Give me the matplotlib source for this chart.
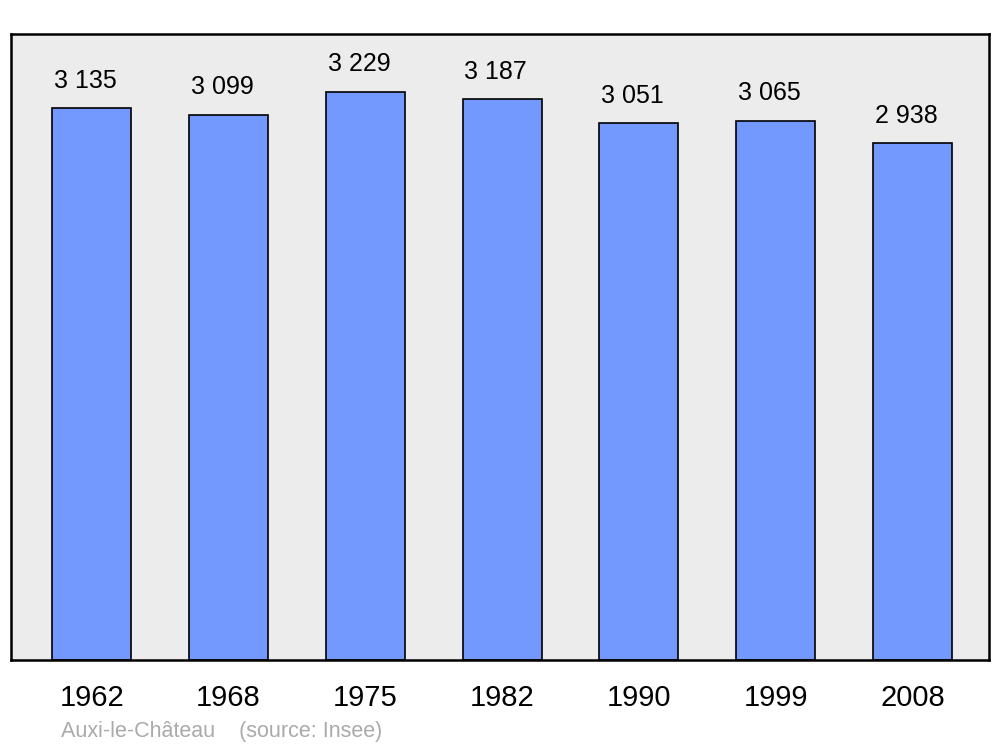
import numpy as np
import matplotlib.pyplot as plt

years = ['1962', '1968', '1975', '1982', '1990', '1999', '2008']
population = [3135, 3099, 3229, 3187, 3051, 3065, 2938]
labels = ['3 135', '3 099', '3 229', '3 187', '3 051', '3 065', '2 938']

plt.rcParams['font.family'] = ['Liberation Sans', 'DejaVu Sans']

fig = plt.figure(figsize=(10, 7.47), dpi=100)
ax = fig.add_axes([0.011, 0.1165, 0.978, 0.838])
ax.set_facecolor('#ececec')

x = np.arange(len(years))
bars = ax.bar(x, population, width=0.578, color='#7399ff', edgecolor='black', linewidth=1.2)

for xi, val, lab in zip(x, population, labels):
    ax.annotate(lab, (xi, val), xytext=(-4.5, 11), textcoords='offset points',
                ha='center', va='bottom', fontsize=18)

ax.set_xlim(-0.59, 6.56)
ax.set_ylim(0, 3557)
ax.set_xticks(x)
ax.set_xticklabels(years, fontsize=21)
ax.tick_params(axis='x', length=0, pad=17)
ax.set_yticks([])
for s in ax.spines.values():
    s.set_linewidth(1.8)

fig.text(0.061, 0.014, 'Auxi-le-Château    (source: Insee)', color='#aaaaaa', fontsize=15.5)

fig.savefig('out.png', dpi=100)
